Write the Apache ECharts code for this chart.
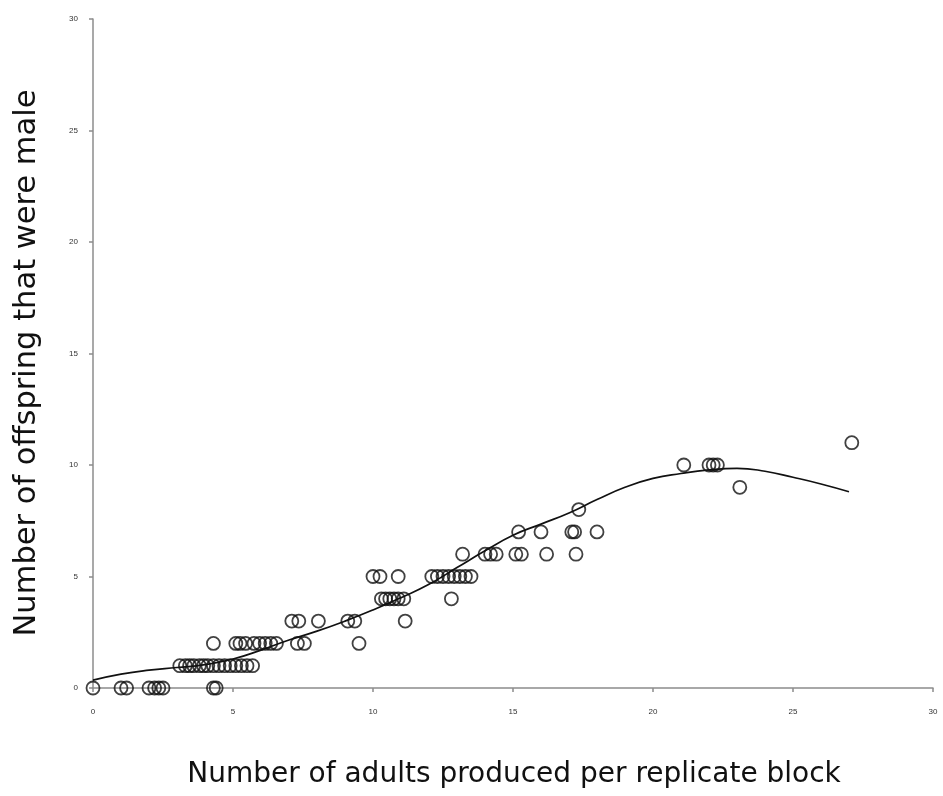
<!DOCTYPE html>
<html>
<head>
<meta charset="utf-8">
<script src="https://cdn.jsdelivr.net/npm/echarts@6/dist/echarts.min.js"></script>
<style>html,body{margin:0;padding:0;background:#fff}#c{width:943px;height:796px}</style>
</head>
<body>
<div id="c"></div>
<script>
// Observed points: adults produced (x) and male offspring (y)
const adults = [
  0, 1.0, 1.2, 2.0, 2.2, 2.35, 2.5, 4.3, 4.4,
  3.1, 3.3, 3.45, 3.6, 3.8, 3.95, 4.1, 4.3, 4.5, 4.7, 4.9, 5.1, 5.3, 5.5, 5.7,
  4.3, 5.1, 5.25, 5.45, 5.75, 5.95, 6.15, 6.35, 6.55, 7.3, 7.55, 9.5,
  7.1, 7.35, 8.05, 9.1, 9.35, 11.15,
  10.3, 10.45, 10.6, 10.75, 10.9, 11.1, 12.8,
  10.0, 10.25, 10.9, 12.1, 12.3, 12.5, 12.7, 12.9, 13.1, 13.3, 13.5,
  13.2, 14.0, 14.2, 14.4, 15.1, 15.3, 16.2, 17.25,
  15.2, 16.0, 17.1, 17.2, 18.0,
  17.35,
  23.1,
  21.1, 22.0, 22.15, 22.3,
  27.1
];
const males = [
  0, 0, 0, 0, 0, 0, 0, 0, 0,
  1, 1, 1, 1, 1, 1, 1, 1, 1, 1, 1, 1, 1, 1, 1,
  2, 2, 2, 2, 2, 2, 2, 2, 2, 2, 2, 2,
  3, 3, 3, 3, 3, 3,
  4, 4, 4, 4, 4, 4, 4,
  5, 5, 5, 5, 5, 5, 5, 5, 5, 5, 5,
  6, 6, 6, 6, 6, 6, 6, 6,
  7, 7, 7, 7, 7,
  8,
  9,
  10, 10, 10, 10,
  11
];
// Fitted curve
const fitX = [0, 1, 2, 3, 4, 5, 6, 7, 8, 9, 10, 11, 12, 13, 14, 15, 16, 17, 18, 19, 20, 21, 22, 23, 24, 25, 26, 27];
const fitY = [0.35, 0.62, 0.8, 0.92, 1.05, 1.3, 1.7, 2.15, 2.55, 3.0, 3.5, 4.05, 4.65, 5.4, 6.15, 6.85, 7.35, 7.85, 8.45, 9.0, 9.4, 9.62, 9.78, 9.85, 9.72, 9.45, 9.15, 8.8];
const xTitle = 'Number of adults produced per replicate block';
const yTitle = 'Number of offspring that were male';

const pts = adults.map((x, i) => [x, males[i]]);
const fit = fitX.map((x, i) => [x, fitY[i]]);

const chart = echarts.init(document.getElementById('c'), null, {renderer: 'canvas'});
const axisCommon = {
  min: 0, max: 30, interval: 5,
  axisLine: {show: true, lineStyle: {color: '#8c8c8c', width: 1.5}},
  axisTick: {show: true, length: 4, lineStyle: {color: '#8c8c8c', width: 1.5}},
  splitLine: {show: false},
  axisLabel: {fontFamily: 'Liberation Sans', fontSize: 8, color: '#333'}
};
chart.setOption({
  animation: false,
  backgroundColor: '#fff',
  grid: {left: 93, right: 10, top: 19, bottom: 108, containLabel: false},
  xAxis: Object.assign({}, axisCommon, {
    type: 'value',
    axisLabel: Object.assign({}, axisCommon.axisLabel, {margin: 20})
  }),
  yAxis: Object.assign({}, axisCommon, {
    type: 'value',
    axisLabel: Object.assign({}, axisCommon.axisLabel, {margin: 15})
  }),
  graphic: [
    {
      type: 'text', x: 514, y: 775,
      style: {text: xTitle, fontFamily: 'DejaVu Sans', fontSize: 28, fill: '#111', align: 'center', verticalAlign: 'middle'}
    },
    {
      type: 'text', x: 27, y: 363, rotation: Math.PI / 2,
      style: {text: yTitle, fontFamily: 'DejaVu Sans', fontSize: 30.5, fill: '#111', align: 'center', verticalAlign: 'middle'}
    }
  ],
  series: [
    {
      type: 'scatter',
      data: pts,
      symbol: 'circle',
      symbolSize: 13,
      itemStyle: {color: 'rgba(255,255,255,0)', borderColor: '#111', borderWidth: 1.8},
      z: 3
    },
    {
      type: 'line',
      data: fit,
      smooth: true,
      showSymbol: false,
      lineStyle: {color: '#111', width: 1.7},
      z: 4
    }
  ]
});
</script>
</body>
</html>
